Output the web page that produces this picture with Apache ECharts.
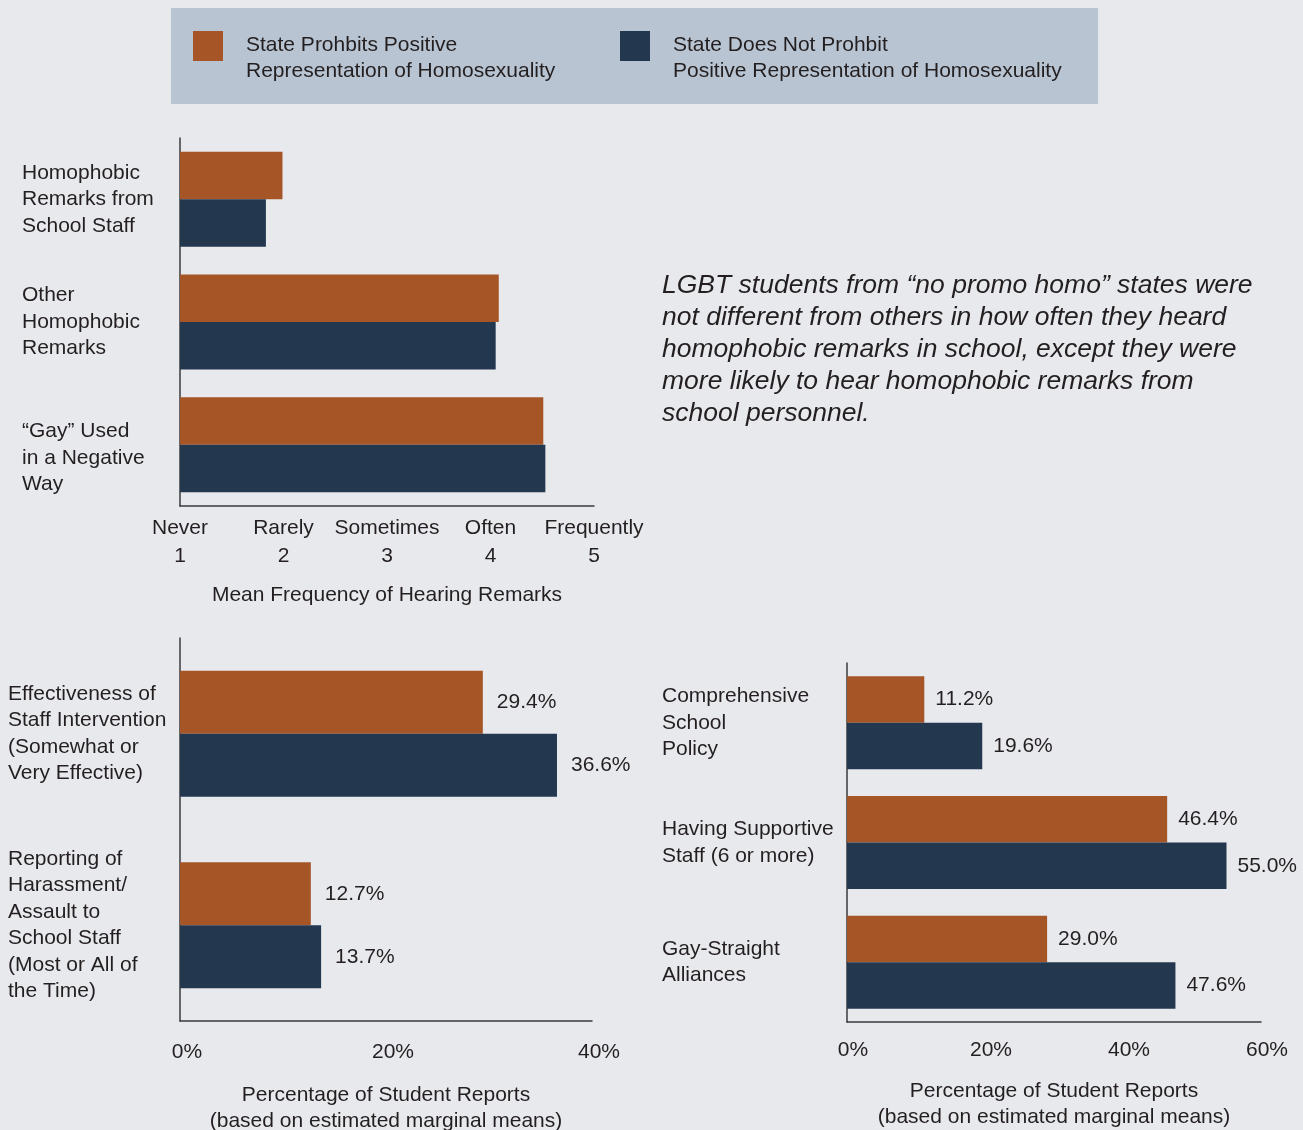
<!DOCTYPE html>
<html>
<head>
<meta charset="utf-8">
<script src="https://cdn.jsdelivr.net/npm/echarts@6/dist/echarts.min.js"></script>
<style>
html,body{margin:0;padding:0;background:#e8e9ed;}
#chart{width:1303px;height:1130px;}
</style>
</head>
<body>
<div id="chart"></div>
<script>
// ---- data ----
var seriesNames = ['State Prohbits Positive\nRepresentation of Homosexuality',
                   'State Does Not Prohbit\nPositive Representation of Homosexuality'];

var remarkCategories = ['Homophobic\nRemarks from\nSchool Staff', 'Other\nHomophobic\nRemarks', '\u201cGay\u201d Used\nin a Negative\nWay'];
var remarkProhibit = [1.99, 4.08, 4.51];
var remarkNotProhibit = [1.83, 4.05, 4.53];
var frequencyWords = ['Never', 'Rarely', 'Sometimes', 'Often', 'Frequently'];
var frequencyNums = [1, 2, 3, 4, 5];

var staffCategories = ['Effectiveness of\nStaff Intervention\n(Somewhat or\nVery Effective)', 'Reporting of\nHarassment/\nAssault to\nSchool Staff\n(Most or All of\nthe Time)'];
var staffProhibit = [29.4, 12.7];
var staffNotProhibit = [36.6, 13.7];

var supportCategories = ['Comprehensive\nSchool\nPolicy', 'Having Supportive\nStaff (6 or more)', 'Gay-Straight\nAlliances'];
var supportProhibit = [11.2, 46.4, 29.0];
var supportNotProhibit = [19.6, 55.0, 47.6];

var noteText = 'LGBT students from \u201cno promo homo\u201d states were\nnot different from others in how often they heard\nhomophobic remarks in school, except they were\nmore likely to hear homophobic remarks from\nschool personnel.';

// ---- styles ----
var ORANGE = '#a65526';
var NAVY = '#23374f';
var TXT = '#231f20';
var FONT = '"Liberation Sans", Arial, Helvetica, sans-serif';
var FS = 21;

var chart = echarts.init(document.getElementById('chart'));

function axisLineStyle() { return { show: true, onZero: false, lineStyle: { color: '#3a3a3a', width: 1.5 } }; }

function catAxis(gridIndex, cats, margin, formatter) {
  var lbl = { align: 'left', margin: margin, color: TXT, fontSize: FS, fontFamily: FONT, lineHeight: 26.5, interval: 0 };
  if (formatter) lbl.formatter = formatter;
  return {
    type: 'category', gridIndex: gridIndex, inverse: true, data: cats,
    axisLine: axisLineStyle(), axisTick: { show: false },
    axisLabel: lbl,
    splitLine: { show: false }
  };
}

function pctLabel(distance) {
  return { show: true, position: 'right', distance: distance, color: TXT, fontSize: FS, fontFamily: FONT,
           formatter: function (p) { return p.value.toFixed(1) + '%'; } };
}

function legendCfg(name, left) {
  return {
    data: [name], left: left, top: 15, padding: 0, itemWidth: 30, itemHeight: 30, icon: 'rect', z: 10,
    formatter: function (n) { return '{s| }\n' + n.split('\n').map(function (l) { return '{t|' + l + '}'; }).join('\n'); },
    textStyle: {
      color: TXT, fontSize: FS, fontFamily: FONT, padding: [0, 0, 0, 18],
      rich: {
        s: { fontSize: 10, lineHeight: 24 },
        t: { color: TXT, fontSize: FS, fontFamily: FONT, lineHeight: 26 }
      }
    }
  };
}

var option = {
  backgroundColor: '#e8e9ed',
  animation: false,
  textStyle: { fontFamily: FONT },
  legend: [ legendCfg(seriesNames[0], 193), legendCfg(seriesNames[1], 620) ],
  graphic: [
    { type: 'rect', left: 171, top: 8, z: -10, shape: { width: 927, height: 96 }, style: { fill: '#b8c4d2' } },
    { type: 'text', left: 662, top: 270, style: { text: noteText, fill: TXT, font: 'italic 26.5px ' + FONT, lineHeight: 32 } }
  ],
  grid: [
    { left: 180, top: 138, width: 414, height: 368, outerBoundsMode: 'none', containLabel: false },
    { left: 180, top: 638, width: 412, height: 383, outerBoundsMode: 'none', containLabel: false },
    { left: 847, top: 663, width: 414, height: 359, outerBoundsMode: 'none', containLabel: false }
  ],
  xAxis: [
    { type: 'value', gridIndex: 0, min: 1, max: 5, interval: 1,
      axisLine: axisLineStyle(), axisTick: { show: false }, splitLine: { show: false },
      axisLabel: { margin: 8, color: TXT, fontSize: FS, fontFamily: FONT, lineHeight: 28,
        formatter: function (v) { var i = frequencyNums.indexOf(v); return frequencyWords[i] + '\n' + frequencyNums[i]; } },
      name: 'Mean Frequency of Hearing Remarks', nameLocation: 'middle', nameGap: 79,
      nameTextStyle: { color: TXT, fontSize: FS, fontFamily: FONT } },
    { type: 'value', gridIndex: 1, min: 0, max: 40, interval: 20,
      axisLine: axisLineStyle(), axisTick: { show: false }, splitLine: { show: false },
      axisLabel: { margin: 21, color: TXT, fontSize: FS, fontFamily: FONT, formatter: '{value}%', padding: [0, 0, 0, 14] },
      name: 'Percentage of Student Reports\n(based on estimated marginal means)', nameLocation: 'middle', nameGap: 61,
      nameTextStyle: { color: TXT, fontSize: FS, fontFamily: FONT, lineHeight: 26 } },
    { type: 'value', gridIndex: 2, min: 0, max: 60, interval: 20,
      axisLine: axisLineStyle(), axisTick: { show: false }, splitLine: { show: false },
      axisLabel: { margin: 18, color: TXT, fontSize: FS, fontFamily: FONT, formatter: '{value}%', padding: [0, 0, 0, 12] },
      name: 'Percentage of Student Reports\n(based on estimated marginal means)', nameLocation: 'middle', nameGap: 56,
      nameTextStyle: { color: TXT, fontSize: FS, fontFamily: FONT, lineHeight: 26 } }
  ],
  yAxis: [
    catAxis(0, remarkCategories, 158, function (v, i) { return i === 2 ? '\n' + v : v; }),
    catAxis(1, staffCategories, 172),
    catAxis(2, supportCategories, 185)
  ],
  series: [
    { name: seriesNames[0], type: 'bar', xAxisIndex: 0, yAxisIndex: 0, data: remarkProhibit, barWidth: 47.5, barGap: '0%', itemStyle: { color: ORANGE }, clip: true },
    { name: seriesNames[1], type: 'bar', xAxisIndex: 0, yAxisIndex: 0, data: remarkNotProhibit, barWidth: 47.5, barGap: '0%', itemStyle: { color: NAVY }, clip: true },
    { name: seriesNames[0], type: 'bar', xAxisIndex: 1, yAxisIndex: 1, data: staffProhibit, barWidth: 63, barGap: '0%', itemStyle: { color: ORANGE }, label: pctLabel(14) },
    { name: seriesNames[1], type: 'bar', xAxisIndex: 1, yAxisIndex: 1, data: staffNotProhibit, barWidth: 63, barGap: '0%', itemStyle: { color: NAVY }, label: pctLabel(14) },
    { name: seriesNames[0], type: 'bar', xAxisIndex: 2, yAxisIndex: 2, data: supportProhibit, barWidth: 46.5, barGap: '0%', itemStyle: { color: ORANGE }, label: pctLabel(11) },
    { name: seriesNames[1], type: 'bar', xAxisIndex: 2, yAxisIndex: 2, data: supportNotProhibit, barWidth: 46.5, barGap: '0%', itemStyle: { color: NAVY }, label: pctLabel(11) }
  ]
};
chart.setOption(option);
</script>
</body>
</html>
